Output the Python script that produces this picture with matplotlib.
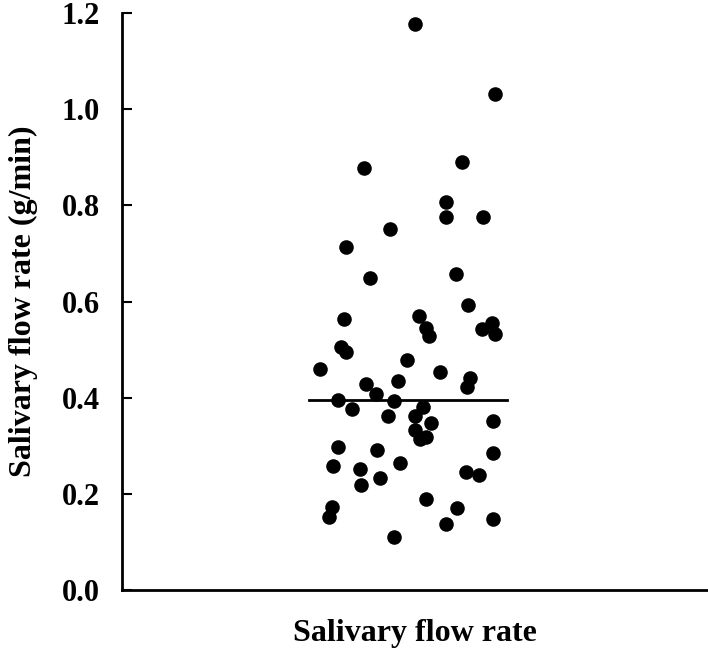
import matplotlib
matplotlib.use("Agg")
import matplotlib.pyplot as plt

# flow rate values (g/min) and horizontal jitter of each dot
flow_rate = [1.177, 1.031, 0.877, 0.890, 0.807, 0.775, 0.775, 0.751, 0.713, 0.649,
             0.657, 0.593, 0.563, 0.570, 0.545, 0.528, 0.555, 0.543, 0.532, 0.505,
             0.495, 0.459, 0.478, 0.453, 0.441, 0.422, 0.428, 0.435, 0.407, 0.395,
             0.393, 0.376, 0.380, 0.362, 0.362, 0.347, 0.333, 0.318, 0.314, 0.351,
             0.297, 0.291, 0.258, 0.252, 0.264, 0.233, 0.218, 0.285, 0.245, 0.239,
             0.189, 0.170, 0.173, 0.152, 0.137, 0.148, 0.110]
jitter = [0.07, 0.88, -0.45, 0.54, 0.38, 0.38, 0.76, -0.18, -0.63, -0.38,
          0.48, 0.61, -0.65, 0.11, 0.18, 0.21, 0.85, 0.75, 0.88, -0.68,
          -0.63, -0.89, -0.01, 0.32, 0.63, 0.60, -0.42, -0.10, -0.32, -0.71,
          -0.14, -0.57, 0.15, -0.20, 0.07, 0.23, 0.07, 0.18, 0.12, 0.86,
          -0.71, -0.31, -0.76, -0.49, -0.08, -0.28, -0.48, 0.86, 0.59, 0.72,
          0.18, 0.49, -0.77, -0.80, 0.38, 0.86, -0.14]
center_value = 0.396
yticks = [0.0, 0.2, 0.4, 0.6, 0.8, 1.0, 1.2]

plt.rcParams['font.family'] = ['Liberation Serif', 'DejaVu Serif']
plt.rcParams['font.weight'] = 'bold'

fig = plt.figure(figsize=(7.08, 6.5), dpi=100)
ax = fig.add_axes([0.1723, 0.0923, 1.0 - 0.1723, 0.98 - 0.0923])

ax.scatter(jitter, flow_rate, s=110, color='black', zorder=3, linewidths=0)
ax.plot([-1, 1], [center_value, center_value], color='black', lw=2, zorder=2)

ax.set_xlim(-2.89, 3.03)
ax.set_ylim(0, 1.2)
ax.set_xticks([])
ax.set_yticks(yticks)
ax.set_yticklabels([f"{t:.1f}" for t in yticks])
ax.tick_params(axis='y', direction='in', length=7, width=1.5, labelsize=22, pad=16)

for s in ['top', 'right']:
    ax.spines[s].set_visible(False)
for s in ['left', 'bottom']:
    ax.spines[s].set_linewidth(2)

ax.set_xlabel("Salivary flow rate", fontsize=23, fontweight='bold', labelpad=21)
ax.set_ylabel("Salivary flow rate (g/min)", fontsize=23, fontweight='bold', labelpad=17)

fig.savefig("out.png", dpi=100)
